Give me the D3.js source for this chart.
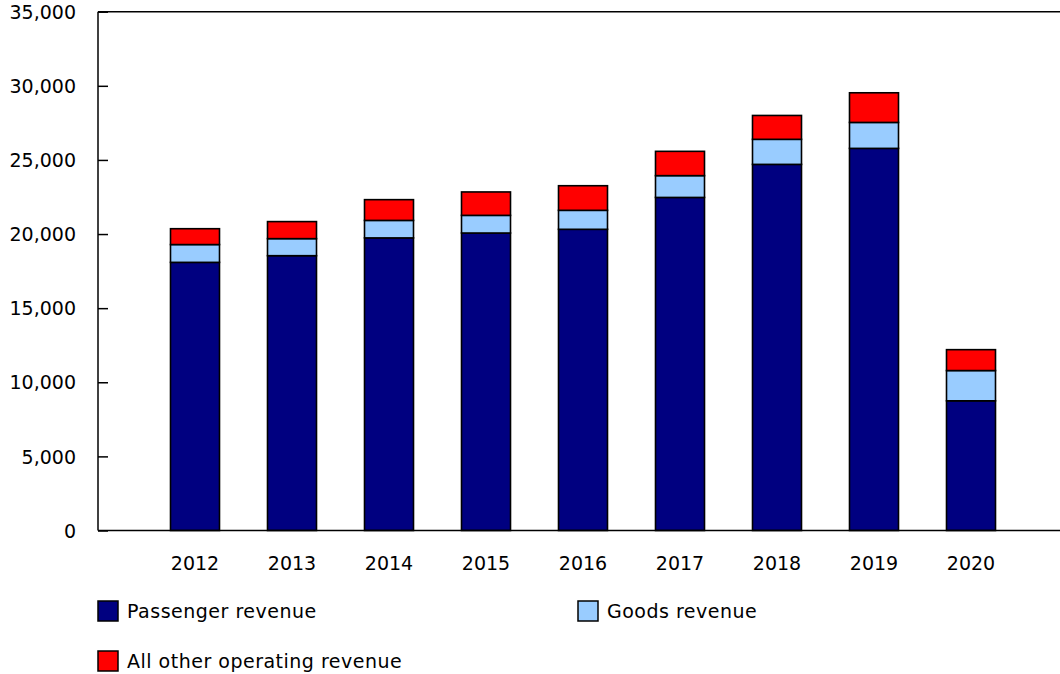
<!DOCTYPE html>
<html>
<head>
<meta charset="utf-8">
<script src="https://cdn.jsdelivr.net/npm/d3@7"></script>
<style>
  body { margin: 0; background: #fff; }
  text { font-family: "DejaVu Sans", Verdana, sans-serif; font-size: 19px; fill: #000; }
</style>
</head>
<body>
<svg id="chart" width="1060" height="674"></svg>
<script>
var years = ["2012", "2013", "2014", "2015", "2016", "2017", "2018", "2019", "2020"];
var passenger = [18090, 18540, 19740, 20070, 20320, 22470, 24700, 25780, 8750];
var goods = [1200, 1150, 1180, 1190, 1280, 1470, 1690, 1750, 2040];
var other = [1070, 1150, 1400, 1580, 1660, 1640, 1610, 2000, 1410];
var seriesNames = ["Passenger revenue", "Goods revenue", "All other operating revenue"];
var seriesColors = ["#000080", "#99ccff", "#ff0000"];
var yTicks = [0, 5000, 10000, 15000, 20000, 25000, 30000, 35000];

var svg = d3.select("#chart");
var plotLeft = 98, plotRight = 1060, plotTop = 11.7, plotBottom = 530.5;

var x = d3.scalePoint().domain(years).range([195, 971]);
var y = d3.scaleLinear().domain([0, 35000]).range([plotBottom, plotTop]);
var barW = 49;

var rows = years.map(function (yr, i) {
    return { year: yr, passenger: passenger[i], goods: goods[i], other: other[i] };
});
var stack = d3.stack().keys(["passenger", "goods", "other"]);
var layers = stack(rows);

svg.append("g")
    .selectAll("g")
    .data(layers)
    .enter()
    .append("g")
    .attr("fill", function (d, i) { return seriesColors[i]; })
    .each(function (layer) {
        d3.select(this).selectAll("rect")
            .data(layer)
            .enter()
            .append("rect")
            .attr("x", function (d) { return x(d.data.year) - barW / 2; })
            .attr("y", function (d) { return y(d[1]); })
            .attr("width", barW)
            .attr("height", function (d) { return y(d[0]) - y(d[1]); })
            .attr("stroke", "#000")
            .attr("stroke-width", 1.6);
    });

// y axis, ticks point inward
var yAxis = svg.append("g")
    .attr("transform", "translate(" + plotLeft + ",0)")
    .call(d3.axisRight(y).tickValues(yTicks).tickSize(10).tickFormat(d3.format(",")));
yAxis.select(".domain").remove();
yAxis.selectAll(".tick line").attr("stroke", "#000").attr("stroke-width", 1.5);
yAxis.selectAll(".tick text")
    .attr("x", -22)
    .attr("text-anchor", "end")
    .attr("dy", "0.35em")
    .attr("fill", "#000")
    .style("font-size", "19px")
    .style("font-family", "'DejaVu Sans', Verdana, sans-serif");

svg.append("line")
    .attr("x1", plotLeft).attr("x2", plotLeft)
    .attr("y1", plotTop).attr("y2", plotBottom)
    .attr("stroke", "#000").attr("stroke-width", 1.5);
svg.append("line")
    .attr("x1", plotLeft).attr("x2", plotRight)
    .attr("y1", plotTop).attr("y2", plotTop)
    .attr("stroke", "#000").attr("stroke-width", 1.5);
svg.append("line")
    .attr("x1", plotLeft).attr("x2", plotRight)
    .attr("y1", plotBottom).attr("y2", plotBottom)
    .attr("stroke", "#000").attr("stroke-width", 1.5);

// x labels
svg.append("g")
    .selectAll("text")
    .data(years)
    .enter()
    .append("text")
    .attr("x", function (d) { return x(d); })
    .attr("y", 570)
    .attr("text-anchor", "middle")
    .text(function (d) { return d; });

// legend
var legendPos = [[98, 601], [578, 601], [98, 651]];
var legend = svg.append("g")
    .selectAll("g")
    .data(seriesNames)
    .enter()
    .append("g")
    .attr("transform", function (d, i) { return "translate(" + legendPos[i][0] + "," + legendPos[i][1] + ")"; });
legend.append("rect")
    .attr("width", 20).attr("height", 20)
    .attr("fill", function (d, i) { return seriesColors[i]; })
    .attr("stroke", "#000").attr("stroke-width", 1.5);
legend.append("text")
    .attr("x", 29)
    .attr("y", 17)
    .style("letter-spacing", "0.5px")
    .text(function (d) { return d; });
</script>
</body>
</html>
